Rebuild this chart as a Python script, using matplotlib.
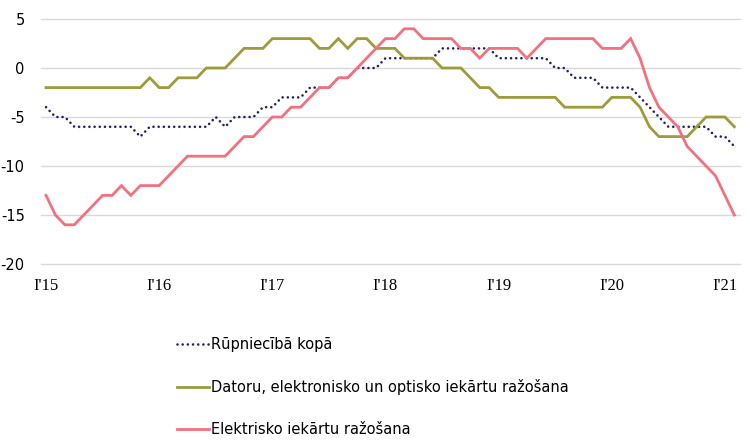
import matplotlib
matplotlib.use("Agg")
import matplotlib.pyplot as plt
import numpy as np

# Monthly data, Jan 2015 .. Feb 2021
months = np.arange(74)

industry_total = [-4, -5, -5, -6, -6, -6, -6, -6, -6, -6, -7, -6,
                  -6, -6, -6, -6, -6, -6, -5, -6, -5, -5, -5, -4,
                  -4, -3, -3, -3, -2, -2, -2, -1, -1, 0, 0, 0,
                  1, 1, 1, 1, 1, 1, 2, 2, 2, 2, 2, 2,
                  1, 1, 1, 1, 1, 1, 0, 0, -1, -1, -1, -2,
                  -2, -2, -2, -3, -4, -5, -6, -6, -6, -6, -6, -7,
                  -7, -8]

computers = [-2, -2, -2, -2, -2, -2, -2, -2, -2, -2, -2, -1,
             -2, -2, -1, -1, -1, 0, 0, 0, 1, 2, 2, 2,
             3, 3, 3, 3, 3, 2, 2, 3, 2, 3, 3, 2,
             2, 2, 1, 1, 1, 1, 0, 0, 0, -1, -2, -2,
             -3, -3, -3, -3, -3, -3, -3, -4, -4, -4, -4, -4,
             -3, -3, -3, -4, -6, -7, -7, -7, -7, -6, -5, -5,
             -5, -6]

electrical = [-13, -15, -16, -16, -15, -14, -13, -13, -12, -13, -12, -12,
              -12, -11, -10, -9, -9, -9, -9, -9, -8, -7, -7, -6,
              -5, -5, -4, -4, -3, -2, -2, -1, -1, 0, 1, 2,
              3, 3, 4, 4, 3, 3, 3, 3, 2, 2, 1, 2,
              2, 2, 2, 1, 2, 3, 3, 3, 3, 3, 3, 2,
              2, 2, 3, 1, -2, -4, -5, -6, -8, -9, -10, -11,
              -13, -15]

tick_pos = [0, 12, 24, 36, 48, 60, 72]
tick_labels = ["I'15", "I'16", "I'17", "I'18", "I'19", "I'20", "I'21"]
y_ticks = [5, 0, -5, -10, -15, -20]

labels = ["Rūpniecībā kopā",
          "Datoru, elektronisko un optisko iekārtu ražošana",
          "Elektrisko iekārtu ražošana"]

c_navy = "#1f2266"
c_olive = "#9c9c3c"
c_pink = "#f2717f"

fig = plt.figure(figsize=(7.5, 4.48), dpi=100)
ax = fig.add_axes([0.0551, 0.4107, 0.9316, 0.5469])

l1, = ax.plot(months, industry_total, color=c_navy, lw=1.9,
              linestyle=(0, (0.01, 1.95)), dash_capstyle="round",
              solid_capstyle="round", zorder=3)
l2, = ax.plot(months, computers, color=c_olive, lw=2.0, zorder=4,
              solid_joinstyle="miter")
l3, = ax.plot(months, electrical, color=c_pink, lw=2.0, zorder=5,
              solid_joinstyle="miter")

ax.set_xlim(-0.5, 73.6)
ax.set_ylim(-20, 5)
ax.set_yticks(y_ticks)
ax.set_yticklabels([str(v) for v in y_ticks], fontsize=10.5,
                   fontfamily="DejaVu Sans")
ax.set_xticks(tick_pos)
ax.set_xticklabels(tick_labels, fontsize=12, fontfamily="Liberation Serif")
ax.tick_params(axis="both", length=0)
ax.tick_params(axis="y", pad=12)
ax.tick_params(axis="x", pad=10)
ax.grid(axis="y", color="#d9d9d9", lw=1.0)
for gl in ax.get_ygridlines():
    gl.set_clip_on(False)
ax.set_axisbelow(True)
for s in ax.spines.values():
    s.set_visible(False)

fig.legend([l1, l2, l3], labels, loc="upper left",
           bbox_to_anchor=(0.236, 0.248), frameon=False,
           prop={"family": "DejaVu Sans", "size": 10.5},
           handlelength=2.2, handletextpad=0.15, labelspacing=1.85,
           borderaxespad=0, borderpad=0)

fig.savefig("out.png", dpi=100)
